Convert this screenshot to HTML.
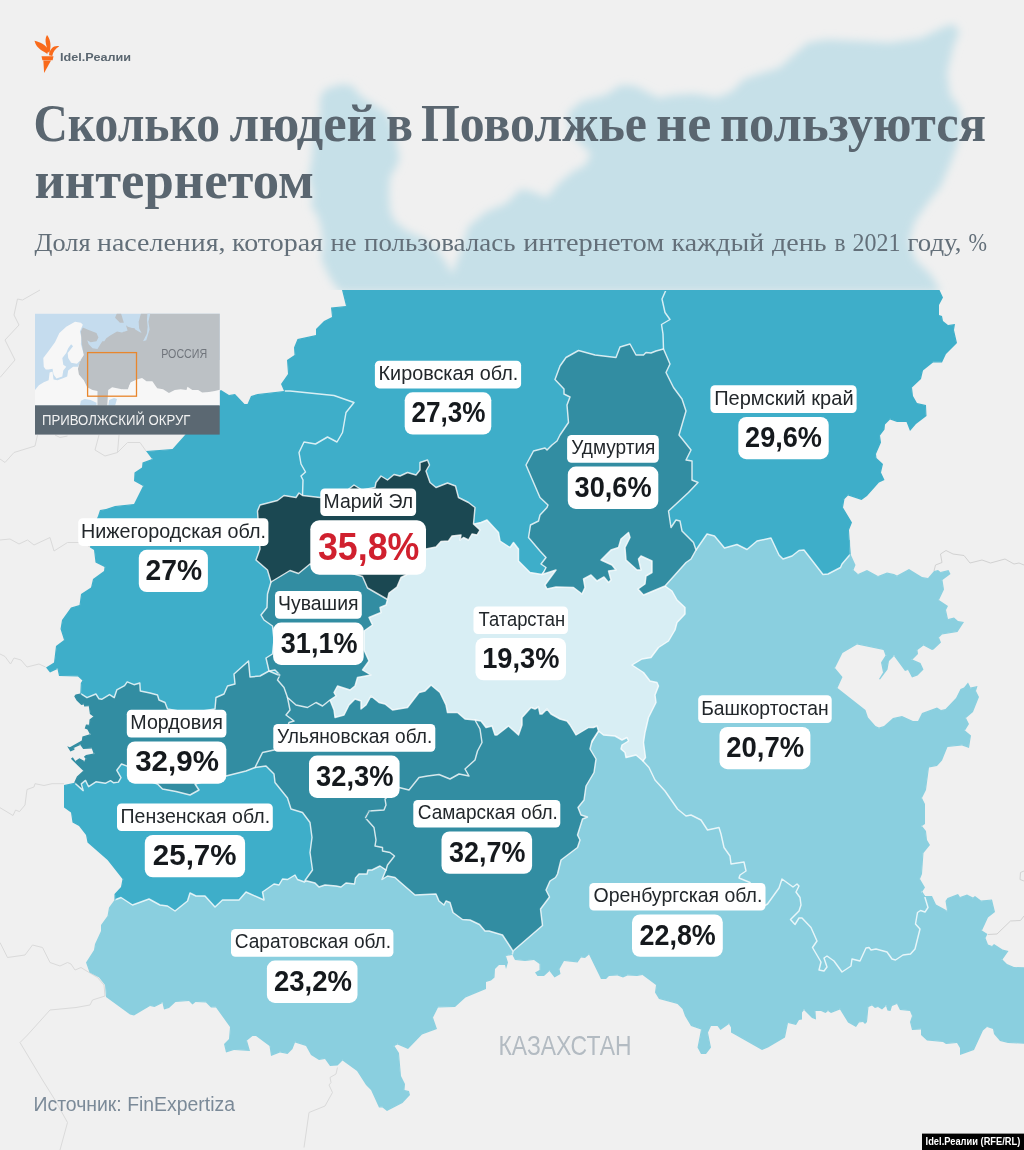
<!DOCTYPE html>
<html lang="ru"><head><meta charset="utf-8"><title>Idel.Реалии</title>
<style>
html,body{margin:0;padding:0;background:#f0f0f0;}
body{width:1024px;height:1150px;overflow:hidden;position:relative;font-family:"Liberation Sans",sans-serif;}
svg{position:absolute;left:0;top:0;display:block;will-change:transform;opacity:0.9999}
text{font-family:"Liberation Sans",sans-serif}
.serif{font-family:"Liberation Serif",serif}
</style></head><body>
<svg width="1024" height="1150" viewBox="0 0 1024 1150">
<defs>
<filter id="bl" x="-5%" y="-5%" width="110%" height="110%"><feGaussianBlur stdDeviation="4.5"/></filter>
<clipPath id="cmap"><rect x="0" y="290" width="1024" height="860"/></clipPath>
<clipPath id="chead"><rect x="0" y="0" width="1024" height="290"/></clipPath>
<clipPath id="cinset"><rect x="35" y="313.7" width="184.7" height="92"/></clipPath>
</defs>
<rect width="1024" height="1150" fill="#f0f0f0"/>

<g fill="none" stroke="#dadada" stroke-width="1"><polyline points="40.0,290.0 22.5,300.0 17.5,299.0 14.0,315.0 19.0,325.0 5.0,340.0 15.0,360.0 0.0,377.5"/><polyline points="0.0,459.0 5.0,462.5 14.0,452.5 35.0,446.0 37.5,435.0"/><polyline points="55.0,435.0 60.0,437.5 67.5,436.0"/><polyline points="99.0,435.0 95.0,450.0 105.0,456.0 117.5,452.5 119.0,435.0"/><polyline points="117.5,452.5 127.5,442.5 140.0,442.5 146.0,451.0"/><polyline points="0.0,540.0 10.0,539.0 19.0,544.0 27.5,540.0 34.0,545.0 50.0,537.5 54.0,551.0 67.5,542.5 82.5,542.5 90.0,547.0"/><polyline points="0.0,654.0 5.0,656.5 10.5,664.0 14.0,658.0 21.0,660.0 27.0,667.0 39.0,664.0 45.6,667.0"/><polyline points="64.0,783.7 52.0,783.7 44.0,785.5 35.0,783.7 34.0,787.0 27.0,789.5 25.0,805.0 19.5,811.6 15.6,810.0 13.0,815.5 0.0,807.7"/><polyline points="0.0,942.5 7.5,957.5 25.0,955.0 32.5,945.0 42.5,947.5 50.0,962.5 60.0,966.0 67.5,962.5 71.0,964.0 75.0,970.0 81.0,967.5 85.0,970.0 97.5,977.5 104.0,985.0 105.0,996.0 92.5,1000.0 90.0,1005.0 76.0,1007.5 50.0,1010.0 27.5,1035.0 20.0,1042.5 42.5,1080.0 55.0,1100.0 67.5,1122.5 60.0,1150.0"/><polyline points="337.5,1067.5 336.0,1074.0 330.0,1077.5 331.0,1082.5 329.0,1085.0 332.5,1092.5 325.0,1106.0 309.0,1112.5 304.0,1147.5"/></g><g fill="none" stroke="#d2d2d2" stroke-width="1"><polyline points="934.0,571.0 935.5,565.0 942.0,562.5 940.5,554.0 946.0,550.5 953.0,554.0 964.0,555.5 970.0,563.0 982.0,560.0 990.5,563.0 1005.0,559.0 1014.0,564.0 1019.0,563.0 1024.0,565.0"/><polyline points="988.0,934.5 997.0,934.0 1010.5,921.0 1020.5,920.5 1024.0,916.0"/><polyline points="1024.0,871.0 1020.5,872.5 1020.0,879.5 1024.0,881.0"/></g>
<g clip-path="url(#chead)"><polygon points="340.0,292.0 331.8,281.0 326.5,271.0 321.0,258.0 323.4,243.7 321.0,227.0 317.0,214.5 311.0,206.0 313.0,193.6 308.8,177.0 312.0,158.0 313.0,143.5 315.0,129.0 320.0,114.0 320.0,97.6 325.5,89.0 342.0,84.0 352.6,86.0 359.0,94.4 369.0,101.8 379.8,108.0 388.0,114.0 394.0,129.0 397.5,147.7 399.6,158.0 396.5,166.5 390.0,177.0 389.0,193.6 390.0,210.0 394.0,220.8 407.0,231.0 421.5,237.5 436.0,248.0 444.5,260.4 450.0,270.0 452.0,275.0 462.0,247.5 468.0,227.0 485.7,212.0 506.0,203.6 520.8,189.0 532.5,191.8 547.0,197.7 559.0,183.0 573.6,171.0 585.0,165.5 591.0,153.8 582.0,145.0 570.6,133.0 567.7,112.7 582.0,101.0 605.8,95.0 620.5,85.0 635.0,86.0 646.8,92.0 658.5,98.0 673.0,95.0 693.7,93.7 711.0,96.6 715.8,98.0 731.6,91.8 744.0,79.0 763.0,72.8 779.0,68.0 795.0,53.8 807.6,42.7 826.6,39.6 858.0,41.0 890.0,42.7 921.5,38.0 940.5,28.5 953.0,24.0 959.5,31.6 953.0,47.5 947.0,73.0 950.0,95.0 959.5,107.6 962.7,126.6 956.0,148.7 950.0,164.6 940.5,186.7 928.0,202.5 915.0,221.5 909.0,240.5 915.0,259.5 931.0,275.0 941.0,292.0" fill="#c6e0e8" filter="url(#bl)"/></g>
<defs><g id="regs">
<polygon points="925.0,896.0 932.0,896.0 936.0,904.5 947.0,910.5 945.5,901.0 947.5,898.0 958.0,894.0 960.0,897.0 967.0,894.5 973.0,897.5 975.0,896.0 981.0,900.5 992.0,899.5 995.0,912.0 988.0,917.5 982.0,930.5 987.5,934.0 985.5,938.0 988.0,944.5 992.0,946.0 994.0,944.0 1002.5,949.5 1008.5,951.0 1002.5,959.5 1007.0,964.0 1014.0,967.0 1030.0,967.5 1030.0,1044.0 1008.0,1043.0 1000.0,1041.0 994.0,1034.0 993.0,1029.0 987.0,1027.0 983.0,1030.5 974.0,1050.0 960.0,1055.0 960.0,1048.0 957.0,1043.0 946.0,1044.0 943.0,1042.0 927.0,1040.5 921.0,1035.0 921.0,1029.5 912.0,1030.0 910.0,1022.0 912.0,1016.0 910.0,1011.0 900.0,1010.0 897.0,1004.0 892.0,1006.0 890.5,1011.0 887.5,1010.5 886.0,1006.0 882.0,1009.5 878.0,1007.0 875.0,1008.0 872.0,1005.5 868.5,1007.0 867.0,1022.0 865.0,1024.0 863.0,1022.0 859.0,1022.5 856.0,1027.0 848.0,1022.5 840.0,1009.5 831.0,1013.0 828.0,1011.0 825.5,1013.0 821.0,1011.0 815.5,1011.0 816.0,1019.5 812.0,1018.0 804.0,1010.0 802.0,1012.5 802.0,1019.5 799.0,1020.0 796.0,1025.0 788.0,1023.0 785.0,1037.5 768.0,1047.5 762.0,1050.0 735.5,1035.0 731.0,1032.5 731.0,1027.5 729.0,1024.0 720.5,1030.0 717.5,1026.0 711.0,1026.0 708.0,1032.5 711.0,1047.5 706.0,1054.0 701.0,1054.0 697.5,1047.5 701.0,1029.5 691.0,1026.0 685.0,1016.0 682.5,1009.0 677.5,1004.0 659.0,999.0 655.0,992.5 656.0,985.0 642.5,975.0 637.0,976.0 627.5,975.5 623.0,977.5 617.5,975.5 609.0,976.0 606.0,979.0 601.0,979.0 589.0,954.5 585.0,958.0 581.0,957.5 577.5,962.5 564.0,961.0 559.5,969.0 560.5,974.0 554.5,977.5 549.5,971.0 544.0,976.0 537.5,976.0 535.0,972.5 539.5,970.0 539.5,964.0 534.0,960.0 525.0,961.0 515.0,960.0 512.5,955.0 513.0,951.0 540.0,900.0 570.0,760.0 600.0,720.0 650.0,740.0 700.0,780.0 800.0,850.0 915.0,880.0" fill="#8acfdf"/>
<polygon points="850.5,554.0 855.5,565.0 853.5,570.0 858.0,574.0 867.0,570.0 878.0,576.0 887.0,572.5 894.0,574.0 897.0,575.5 909.0,569.0 922.0,577.0 928.0,578.0 934.0,571.0 938.0,570.0 940.5,572.0 948.5,570.0 950.5,574.0 942.5,580.0 944.0,589.5 939.0,600.0 948.0,606.0 946.0,610.0 948.0,619.0 954.0,617.5 958.0,621.0 964.0,622.0 957.5,632.0 942.0,634.5 939.0,637.5 941.0,642.5 933.5,649.5 932.0,650.0 923.5,645.5 917.5,650.0 918.0,654.0 912.5,659.5 920.5,663.0 923.5,669.5 917.5,675.5 912.0,677.5 908.0,670.0 905.0,671.0 894.0,656.0 889.0,661.0 887.5,669.5 880.0,679.5 879.0,679.0 883.0,672.5 881.0,662.5 885.5,655.5 883.5,650.0 857.0,644.5 842.5,653.0 835.0,668.0 842.5,677.0 837.5,688.0 865.5,710.0 868.0,717.5 875.5,726.0 879.0,727.5 884.0,726.0 893.0,718.0 902.0,716.0 913.0,721.0 918.0,721.0 922.0,713.0 937.0,707.5 941.0,710.0 945.5,709.0 956.0,698.0 960.5,689.0 964.0,687.5 968.0,682.5 970.5,687.5 977.5,686.0 976.0,691.0 979.0,697.0 973.0,712.0 966.0,718.0 969.0,724.0 965.0,730.5 971.0,735.5 969.0,748.0 962.0,745.5 947.5,747.0 942.0,760.5 937.0,766.0 929.0,767.5 926.0,790.0 922.0,798.0 925.0,804.0 925.0,824.0 922.0,826.0 926.0,831.0 927.0,840.0 930.0,845.0 923.5,853.0 922.0,874.0 920.0,879.0 925.0,887.5 922.0,892.0 925.0,896.0 925.0,897.5 928.0,907.5 925.0,912.0 920.5,910.5 917.5,912.5 915.5,924.0 920.0,929.0 915.0,949.0 910.5,954.0 903.0,955.0 895.5,960.0 892.0,959.0 887.0,952.0 876.0,949.0 871.0,950.0 869.0,947.5 866.0,948.0 860.0,961.0 852.0,959.0 851.0,966.0 842.0,972.0 834.0,961.0 827.0,956.0 824.0,958.0 827.0,967.0 824.0,971.0 819.0,970.0 821.0,962.0 812.5,947.5 817.0,941.0 811.0,927.5 802.0,918.0 799.0,918.0 795.0,924.5 790.5,919.5 799.0,911.0 801.0,905.0 800.0,897.5 796.0,892.0 799.0,886.0 797.0,884.0 793.0,887.0 782.0,879.0 779.0,888.0 767.5,904.0 764.0,906.0 750.0,882.5 739.0,878.0 740.0,875.0 746.0,871.0 744.0,862.0 731.0,864.0 730.0,856.0 724.0,847.5 721.0,834.0 719.0,827.5 707.5,830.0 701.0,820.0 691.0,815.0 686.0,816.0 677.5,809.0 665.0,791.0 655.0,780.0 649.0,767.5 643.0,761.0 630.0,720.0 620.0,640.0 650.0,595.0 665.0,560.0 690.0,530.0 780.0,530.0 850.0,540.0" fill="#8acfdf"/>
<polygon points="939.5,290.0 943.0,297.5 939.0,305.0 939.0,315.0 942.0,316.0 943.0,321.0 948.0,325.0 955.0,324.0 954.0,330.0 957.0,343.0 946.0,354.0 942.0,362.5 933.0,362.5 923.0,370.5 921.0,379.0 912.0,387.5 913.0,396.0 917.0,403.0 926.0,405.0 926.5,416.0 916.0,424.0 910.0,431.0 906.5,422.0 897.0,422.0 890.0,419.5 885.0,424.5 884.5,429.5 880.0,435.5 881.0,442.5 876.0,454.0 876.5,458.0 883.0,464.0 881.0,472.5 884.5,480.0 879.0,482.5 867.0,496.0 861.5,500.0 848.0,495.5 844.5,499.0 843.0,507.5 852.0,522.5 849.0,530.0 850.5,554.0 842.0,564.0 840.5,567.5 828.0,574.0 823.0,574.5 804.0,550.0 799.0,550.5 792.0,556.0 783.0,559.0 779.0,555.0 771.0,538.0 757.0,541.0 747.0,549.5 737.0,544.5 724.5,548.0 714.5,536.0 707.0,534.0 696.0,550.0 670.0,540.0 650.0,480.0 645.0,400.0 640.0,290.0" fill="#3eaec9"/>
<polygon points="342.0,290.0 666.0,290.0 662.0,299.0 665.0,312.5 670.0,319.5 661.5,324.5 663.0,334.0 663.5,349.0 640.0,380.0 600.0,480.0 570.0,555.0 530.0,600.0 450.0,560.0 400.0,540.0 300.0,520.0 290.0,450.0 284.0,400.0 284.0,391.0 281.0,384.0 288.0,374.0 287.0,360.0 294.5,355.0 294.0,347.5 297.5,339.0 316.0,335.0 316.0,329.0 324.0,321.0 332.0,317.0 331.0,307.5 346.0,306.0" fill="#3eaec9"/>
<polygon points="284.0,391.0 257.5,394.0 251.0,396.0 247.5,404.0 244.5,404.0 235.0,394.0 229.0,395.0 221.0,390.0 205.0,400.0 195.0,420.0 185.0,435.0 172.5,449.0 146.0,451.0 152.0,459.0 142.5,462.5 142.0,467.5 134.5,472.5 134.0,481.0 143.0,486.0 134.0,504.0 115.0,506.0 106.0,509.0 100.0,510.0 98.0,516.0 92.0,530.0 90.0,547.5 94.0,550.0 95.5,562.5 104.5,567.0 104.0,571.0 93.0,579.0 91.0,587.5 81.0,594.0 79.5,605.0 71.0,607.5 62.0,620.0 60.5,629.0 64.0,640.0 56.0,646.0 54.0,662.5 46.0,667.5 50.0,672.5 57.5,669.0 59.0,676.0 78.0,676.5 82.4,680.5 80.8,683.0 80.3,693.4 100.0,720.0 240.0,720.0 300.0,650.0 300.0,560.0 302.5,495.5 303.0,480.0 301.0,476.0 305.5,472.0 301.0,464.0 299.0,452.5 304.0,442.0 315.5,444.0 327.5,437.0 337.0,442.0 342.5,432.5 346.0,412.5 354.0,402.5 334.0,395.5 290.0,391.0" fill="#3eaec9"/>
<polygon points="114.5,900.0 109.0,907.5 107.5,916.0 101.0,925.0 101.0,931.0 95.0,944.0 94.0,950.0 86.0,962.5 89.5,972.5 99.0,977.5 105.0,985.0 106.0,997.0 130.0,1014.5 134.0,1015.5 150.0,1006.0 154.5,1007.0 162.5,1003.0 164.0,1009.5 169.0,1008.0 175.5,1002.0 189.0,1001.0 192.5,1004.5 195.5,1002.0 206.0,1002.5 211.0,1007.5 216.0,1007.5 230.0,1027.0 229.0,1039.0 224.0,1044.0 226.0,1052.5 234.0,1050.0 250.0,1051.0 247.0,1040.5 252.5,1036.0 256.0,1036.0 269.5,1046.0 271.0,1056.0 280.0,1052.5 287.5,1054.0 292.5,1049.0 295.0,1042.5 306.0,1046.0 311.0,1055.0 319.0,1060.0 325.0,1059.0 330.0,1066.0 337.5,1065.5 342.5,1060.5 357.0,1071.0 366.0,1085.0 371.0,1090.0 379.0,1107.5 382.5,1107.5 387.0,1111.0 402.5,1103.0 410.0,1095.0 409.0,1091.0 404.5,1090.0 405.0,1084.0 401.0,1076.0 399.0,1053.0 394.5,1046.0 397.5,1044.5 408.0,1049.0 422.0,1034.5 437.0,1029.0 433.0,1017.5 438.0,1007.5 455.0,1007.0 465.5,997.5 486.0,989.0 486.0,982.0 491.0,980.5 494.5,977.5 495.0,969.0 499.0,965.0 505.0,965.0 506.0,969.0 508.0,962.5 506.0,956.0 512.0,955.0 513.0,951.0 500.0,920.0 450.0,880.0 350.0,860.0 300.0,860.0 135.0,885.0" fill="#8acfdf"/>
<polygon points="74.5,782.8 64.0,785.0 64.0,807.5 71.0,812.5 72.5,822.5 79.0,826.0 86.0,835.0 87.5,842.5 107.5,860.0 122.5,879.0 121.0,887.0 114.5,894.0 114.5,900.0 121.0,897.5 132.5,905.0 149.0,899.0 160.0,905.0 167.5,906.0 175.0,911.0 187.5,901.0 190.0,893.0 196.0,896.0 205.0,896.0 215.0,907.0 222.5,900.0 239.0,900.0 246.0,892.0 264.0,900.0 262.5,892.0 274.0,884.0 279.0,885.0 282.5,879.0 287.5,879.5 295.0,875.0 297.5,879.5 304.5,882.0 330.0,860.0 330.0,780.0 280.0,760.0 240.0,755.0 100.0,765.0 84.0,776.0" fill="#3eaec9"/>
<polygon points="474.0,524.0 481.0,522.5 487.0,520.0 498.5,532.5 500.0,541.0 510.0,547.5 513.5,542.5 518.5,549.0 518.5,561.0 530.0,572.5 542.0,574.5 560.0,550.0 620.0,520.0 660.0,560.0 665.0,586.0 672.0,591.0 677.0,600.0 685.0,607.5 685.0,614.0 677.0,622.5 675.0,630.0 668.5,641.0 658.5,647.5 651.0,657.5 642.0,659.0 632.0,665.0 643.5,672.5 650.0,681.0 657.0,682.5 658.5,686.0 655.0,695.0 656.0,702.5 648.5,717.5 645.0,732.5 643.5,742.5 645.5,757.5 643.0,761.0 636.0,755.0 626.0,757.5 625.0,752.5 621.0,749.0 622.0,745.0 628.5,741.0 627.0,737.5 622.0,740.0 615.0,736.0 603.5,735.0 598.5,731.0 590.0,745.0 560.0,750.0 500.0,750.0 440.0,730.0 340.0,730.0 320.0,690.0 350.0,640.0 375.0,600.0 400.0,570.0 440.0,535.0 470.0,520.0" fill="#d8eef4"/>
<polygon points="663.5,349.0 670.0,364.0 666.0,372.5 673.5,387.5 682.0,399.0 686.0,411.0 679.0,435.0 691.0,450.0 686.0,460.0 692.0,461.0 692.0,480.0 698.0,482.5 688.5,492.5 668.5,511.0 671.0,527.5 676.0,520.0 680.0,521.0 682.0,531.0 693.5,542.5 696.0,550.0 691.0,559.0 686.0,562.5 665.0,586.0 643.5,595.0 638.0,589.0 645.0,584.0 646.0,576.0 652.0,572.5 652.0,561.0 641.0,556.0 638.5,559.0 641.0,570.0 637.0,570.0 626.0,560.0 625.0,547.5 630.0,537.5 628.5,532.5 621.0,539.0 618.5,547.5 611.0,550.0 601.0,560.0 612.0,565.0 616.0,570.0 608.5,571.0 611.0,580.0 608.5,582.5 604.0,577.0 597.0,581.0 591.0,575.0 583.5,579.0 585.0,587.5 582.0,594.0 573.5,587.5 556.0,587.0 547.0,589.0 545.0,585.0 556.0,570.0 542.0,574.5 543.5,572.5 546.0,567.5 541.0,564.0 546.0,557.5 540.0,551.0 528.5,537.5 530.5,525.0 538.5,521.0 540.0,515.0 547.0,507.5 548.0,505.0 540.0,497.5 526.0,465.0 533.5,451.0 545.0,448.0 547.0,450.0 552.0,445.0 557.0,441.0 560.0,435.0 568.5,422.5 567.0,405.0 570.0,397.0 564.0,394.0 564.0,389.0 555.0,379.5 560.0,366.0 566.0,357.5 578.5,350.5 595.0,355.0 616.0,357.5 620.0,347.0 630.0,344.0 636.0,355.0 643.5,355.0 646.0,352.5 651.0,353.0 656.0,351.0" fill="#328da2"/>
<polygon points="598.5,731.0 597.0,726.0 593.5,727.5 588.5,727.5 576.0,735.0 570.0,725.0 567.0,721.0 560.0,719.0 551.0,714.0 547.0,709.0 542.0,714.0 540.0,714.0 538.5,707.0 535.0,709.0 531.0,707.5 522.0,717.5 522.0,725.0 518.5,735.0 508.5,726.0 497.0,735.0 495.0,735.0 492.0,726.0 486.0,727.5 481.0,721.0 475.0,720.0 460.0,740.0 420.0,760.0 380.0,790.0 360.0,830.0 374.0,860.0 386.0,870.0 382.0,879.5 387.5,876.0 395.0,877.5 400.0,882.0 415.0,895.0 436.0,894.0 439.0,901.0 444.0,905.0 446.0,901.0 450.0,902.5 453.0,912.5 462.5,919.5 470.0,920.0 479.5,924.5 485.0,931.0 489.0,931.0 502.5,935.0 513.0,951.0 542.5,925.5 540.5,909.0 549.5,897.0 546.0,890.0 550.0,881.0 555.5,877.5 557.5,874.0 561.0,860.0 577.5,847.5 580.0,840.0 577.5,835.0 582.5,819.0 587.5,817.0 581.0,815.0 578.0,807.5 584.0,800.0 586.0,786.0 594.0,772.5 596.0,759.0 590.0,749.0 592.0,741.0" fill="#328da2"/>
<polygon points="330.0,700.0 334.0,710.0 335.0,717.5 344.0,715.0 349.0,705.0 355.0,699.0 361.0,701.0 361.0,709.0 366.0,705.0 371.0,696.0 379.0,702.5 385.0,704.0 392.5,710.0 407.5,707.5 419.0,692.5 425.0,691.0 431.0,685.0 440.0,692.5 446.0,705.0 447.5,712.5 457.5,712.5 465.0,719.0 475.0,720.0 480.0,729.0 482.0,742.5 477.5,751.0 475.0,760.0 465.0,769.0 469.0,776.0 459.0,774.0 450.0,779.0 439.0,774.5 427.5,776.0 419.0,777.5 409.0,790.0 399.0,787.5 392.0,793.0 385.0,799.0 386.0,805.0 384.0,810.0 369.0,811.0 365.0,817.5 374.0,827.5 376.0,840.0 375.0,846.0 382.5,847.5 382.5,851.0 390.0,852.5 394.5,856.0 387.5,865.0 386.0,870.0 380.0,866.0 372.0,870.0 368.0,870.0 367.0,874.0 359.0,874.0 355.5,878.0 354.5,884.0 346.0,883.0 341.0,887.0 336.0,886.0 325.0,885.0 319.0,887.0 315.0,883.0 305.0,880.5 312.5,870.0 310.0,852.5 312.0,837.5 310.0,822.5 302.5,812.5 291.0,809.0 287.5,798.0 275.0,782.5 274.0,774.0 266.0,766.0 255.0,767.5 250.0,740.0 270.0,700.0 300.0,690.0" fill="#328da2"/>
<polygon points="74.2,696.2 75.6,694.6 80.3,693.4 87.0,697.7 95.9,694.0 99.0,698.8 101.7,699.3 109.5,694.6 114.2,697.7 116.8,689.9 124.6,685.7 127.2,681.9 134.0,684.7 139.8,683.0 140.3,691.0 150.0,693.0 157.5,695.0 159.0,700.0 165.0,702.5 167.5,709.0 190.0,713.0 215.0,709.0 216.0,697.5 224.0,694.0 227.5,686.0 235.0,684.0 234.0,674.0 248.5,661.0 250.0,677.0 260.0,676.0 269.0,671.0 290.0,680.0 287.5,697.5 290.0,710.0 286.0,715.0 294.0,721.0 289.0,722.5 285.0,735.0 274.0,750.0 262.5,752.5 255.0,767.5 246.0,771.0 226.0,776.0 210.0,780.0 195.0,784.0 199.0,790.0 190.0,795.0 176.0,791.5 162.5,789.0 157.5,784.0 140.0,778.0 127.2,766.1 121.5,764.0 116.8,770.3 121.0,777.6 118.4,782.1 113.7,782.8 110.5,780.7 105.3,783.3 95.9,781.8 88.6,786.7 85.5,780.4 81.3,783.9 83.2,790.6 74.5,782.8 74.5,781.8 76.9,776.6 83.2,770.8 70.9,758.8 72.8,757.2 75.3,760.9 79.4,758.3 84.4,760.9 85.5,758.8 83.9,756.7 86.0,754.9 93.6,753.6 91.8,748.4 83.2,748.9 80.3,744.9 74.2,747.8 74.5,749.7 70.4,751.5 67.2,746.3 69.8,747.3 81.8,740.5 82.4,736.6 89.9,734.3 87.4,729.6 84.7,728.5 86.0,724.4 89.1,724.7 89.5,719.5 93.3,716.5 89.9,713.9 88.8,706.3 84.2,706.6 83.9,704.5 81.3,705.0 76.6,700.4" fill="#328da2"/>
<polygon points="271.0,582.0 267.5,594.0 267.0,607.5 261.0,615.0 264.0,620.0 272.5,626.0 274.0,640.0 272.5,654.0 266.0,658.0 269.0,671.0 275.0,670.0 280.0,675.0 277.5,680.0 284.0,687.5 287.5,697.5 296.0,705.0 307.5,707.5 316.0,702.5 322.5,706.0 330.0,700.0 336.0,696.0 334.0,692.5 337.5,686.0 350.0,690.0 355.0,686.0 357.5,677.5 371.0,675.0 362.5,670.0 369.0,661.0 364.0,650.0 364.0,631.0 372.5,625.0 369.0,617.5 381.0,612.5 380.0,607.5 386.0,605.0 387.5,599.5 380.0,585.0 330.0,560.0 280.0,565.0" fill="#328da2"/>
<polygon points="302.5,495.5 320.0,497.5 345.0,492.0 354.0,485.0 362.0,490.0 375.0,487.5 376.0,482.5 381.0,476.0 387.5,480.0 394.0,474.5 400.0,476.0 407.5,472.5 416.0,475.0 420.0,470.0 420.0,462.5 427.5,460.0 429.5,465.0 426.0,471.0 430.0,482.5 436.0,487.5 447.5,483.0 455.5,486.0 458.5,497.5 468.5,502.5 475.0,507.5 473.5,524.0 480.0,530.0 477.0,535.0 472.0,534.0 468.5,540.0 463.5,537.5 460.0,540.0 461.0,535.0 452.0,536.0 448.5,541.0 441.0,541.5 436.0,547.0 426.0,549.0 418.0,562.0 406.0,575.0 401.0,577.5 397.0,587.0 389.0,593.0 387.5,599.5 367.5,588.0 362.5,576.5 340.0,570.0 310.0,564.0 298.5,573.5 290.0,570.5 271.0,582.0 267.5,570.0 256.0,560.0 260.0,549.0 257.5,511.0 260.0,505.0 277.5,500.5 284.0,495.5 296.0,497.5 299.0,493.0" fill="#1b4852"/>
</g>
<filter id="ero" x="0" y="0" width="1024" height="1150" filterUnits="userSpaceOnUse"><feMorphology in="SourceAlpha" operator="erode" radius="1.3"/><feColorMatrix type="matrix" values="0 0 0 0 1  0 0 0 0 1  0 0 0 0 1  0 0 0 1 0"/></filter>
<mask id="mk" maskUnits="userSpaceOnUse" x="0" y="0" width="1024" height="1150"><g filter="url(#ero)"><use href="#regs"/></g></mask></defs>
<g clip-path="url(#cmap)"><use href="#regs"/>
<g mask="url(#mk)"><use href="#regs" stroke="#ffffff" stroke-opacity="0.8" stroke-width="1.45" stroke-linejoin="round"/></g></g>
<g clip-path="url(#cinset)"><rect x="34" y="313" width="187" height="93" fill="#c5dcee"/><rect x="80" y="360" width="141" height="46" fill="#f7f7f7"/><g transform="translate(34,312) scale(0.097656)"><polygon points="100.0,560.0 95.0,470.0 150.0,400.0 215.0,310.0 260.0,215.0 330.0,150.0 420.0,100.0 480.0,110.0 500.0,130.0 470.0,200.0 485.0,260.0 480.0,330.0 500.0,400.0 515.0,440.0 470.0,500.0 440.0,530.0 380.0,520.0 350.0,470.0 345.0,420.0 400.0,350.0 380.0,330.0 350.0,370.0 330.0,420.0 290.0,470.0 300.0,540.0 330.0,560.0 300.0,600.0 290.0,660.0 230.0,680.0 200.0,640.0 190.0,580.0 150.0,590.0 120.0,590.0" fill="#f7f7f7"/><polygon points="0.0,810.0 50.0,750.0 100.0,720.0 150.0,700.0 160.0,620.0 190.0,610.0 200.0,690.0 240.0,700.0 290.0,680.0 340.0,660.0 350.0,600.0 400.0,560.0 450.0,560.0 470.0,520.0 520.0,500.0 1030.0,500.0 1030.0,960.0 0.0,960.0" fill="#f7f7f7"/><polygon points="470.0,960.0 480.0,910.0 520.0,890.0 580.0,900.0 640.0,930.0 640.0,960.0" fill="#c5dcee"/><polygon points="760.0,960.0 770.0,900.0 820.0,880.0 850.0,890.0 830.0,960.0" fill="#c5dcee"/><polygon points="500.0,160.0 560.0,185.0 640.0,215.0 660.0,260.0 640.0,300.0 580.0,310.0 545.0,290.0 560.0,330.0 600.0,370.0 650.0,380.0 680.0,330.0 700.0,300.0 720.0,300.0 740.0,270.0 780.0,240.0 850.0,200.0 900.0,210.0 960.0,190.0 1000.0,170.0 1030.0,165.0 1030.0,700.0 990.0,720.0 960.0,780.0 900.0,790.0 800.0,770.0 760.0,800.0 750.0,960.0 650.0,960.0 650.0,810.0 600.0,800.0 545.0,770.0 530.0,740.0 510.0,700.0 460.0,640.0 450.0,580.0 470.0,510.0 510.0,440.0 490.0,330.0 480.0,200.0" fill="#bcc1c5"/><polygon points="830.0,60.0 850.0,10.0 890.0,10.0 920.0,110.0 880.0,110.0" fill="#bcc1c5"/></g><g transform="translate(124,312) scale(0.097656)"><polygon points="175.0,10.0 150.0,100.0 155.0,170.0 180.0,215.0 150.0,200.0 100.0,170.0 40.0,150.0 20.0,135.0 40.0,200.0 20.0,220.0 -10.0,200.0 -10.0,790.0 40.0,790.0 60.0,720.0 130.0,690.0 185.0,675.0 230.0,710.0 290.0,710.0 340.0,780.0 400.0,790.0 460.0,830.0 520.0,800.0 580.0,790.0 640.0,800.0 650.0,765.0 700.0,800.0 760.0,800.0 800.0,825.0 870.0,820.0 930.0,810.0 990.0,795.0 990.0,10.0" fill="#bcc1c5"/><polygon points="240.0,10.0 270.0,10.0 250.0,100.0 262.0,180.0 228.0,290.0 195.0,300.0 235.0,220.0 242.0,150.0 235.0,80.0" fill="#c5dcee"/></g></g><rect x="87.6" y="352.6" width="48.9" height="43.6" fill="none" stroke="#e8862d" stroke-width="1.3"/><rect x="35" y="405.3" width="184.7" height="29.3" fill="#5b6872"/><text x="161.2" y="357.5" font-size="12.8" fill="#70757c" textLength="46" lengthAdjust="spacingAndGlyphs">РОССИЯ</text><text x="42" y="425.3" font-size="14.4" fill="#f2f2f2" textLength="148.5" lengthAdjust="spacingAndGlyphs">ПРИВОЛЖСКИЙ ОКРУГ</text>
<g>
<rect x="374.9" y="360.7" width="146.2" height="27.7" rx="4.5" fill="#fff"/>
<text x="378.6" y="380.1" font-size="19.9" fill="#22272b" textLength="139.6" lengthAdjust="spacingAndGlyphs">Кировская обл.</text>
<rect x="404.7" y="392.3" width="86.6" height="42.3" rx="8" fill="#fff"/>
<text x="411.5" y="422.3" font-size="30.2" font-weight="bold" fill="#15191d" textLength="74.1" lengthAdjust="spacingAndGlyphs">27,3%</text>
<rect x="710.4" y="385.3" width="146.2" height="27.7" rx="4.5" fill="#fff"/>
<text x="714.2" y="404.7" font-size="19.9" fill="#22272b" textLength="139.4" lengthAdjust="spacingAndGlyphs">Пермский край</text>
<rect x="738.3" y="416.9" width="90.4" height="42.3" rx="8" fill="#fff"/>
<text x="745.1" y="446.9" font-size="30.2" font-weight="bold" fill="#15191d" textLength="76.9" lengthAdjust="spacingAndGlyphs">29,6%</text>
<rect x="567.1" y="435.0" width="91.7" height="27.7" rx="4.5" fill="#fff"/>
<text x="571.2" y="454.4" font-size="19.9" fill="#22272b" textLength="84.2" lengthAdjust="spacingAndGlyphs">Удмуртия</text>
<rect x="567.8" y="466.6" width="90.5" height="42.3" rx="8" fill="#fff"/>
<text x="574.6" y="496.6" font-size="30.2" font-weight="bold" fill="#15191d" textLength="77.0" lengthAdjust="spacingAndGlyphs">30,6%</text>
<rect x="320.3" y="488.4" width="95.8" height="27.7" rx="4.5" fill="#fff"/>
<text x="323.6" y="507.8" font-size="19.9" fill="#22272b" textLength="89.6" lengthAdjust="spacingAndGlyphs">Марий Эл</text>
<rect x="310.3" y="520.3" width="115.7" height="54.4" rx="9" fill="#fff"/>
<text x="317.9" y="559.7" font-size="38.6" font-weight="bold" fill="#d0202e" textLength="101.5" lengthAdjust="spacingAndGlyphs">35,8%</text>
<rect x="78.2" y="518.2" width="190.2" height="27.7" rx="4.5" fill="#fff"/>
<text x="81.0" y="537.6" font-size="19.9" fill="#22272b" textLength="184.9" lengthAdjust="spacingAndGlyphs">Нижегородская обл.</text>
<rect x="138.8" y="549.8" width="69.1" height="42.3" rx="8" fill="#fff"/>
<text x="145.5" y="579.8" font-size="30.2" font-weight="bold" fill="#15191d" textLength="56.5" lengthAdjust="spacingAndGlyphs">27%</text>
<rect x="275.0" y="591.0" width="86.8" height="27.7" rx="4.5" fill="#fff"/>
<text x="278.1" y="610.4" font-size="19.9" fill="#22272b" textLength="80.4" lengthAdjust="spacingAndGlyphs">Чувашия</text>
<rect x="273.1" y="622.6" width="90.6" height="42.3" rx="8" fill="#fff"/>
<text x="280.8" y="652.6" font-size="30.2" font-weight="bold" fill="#15191d" textLength="76.7" lengthAdjust="spacingAndGlyphs">31,1%</text>
<rect x="473.5" y="606.4" width="94.5" height="27.7" rx="4.5" fill="#fff"/>
<text x="478.5" y="625.8" font-size="19.9" fill="#22272b" textLength="86.6" lengthAdjust="spacingAndGlyphs">Татарстан</text>
<rect x="475.5" y="638.0" width="90.5" height="42.3" rx="8" fill="#fff"/>
<text x="482.2" y="668.0" font-size="30.2" font-weight="bold" fill="#15191d" textLength="77.2" lengthAdjust="spacingAndGlyphs">19,3%</text>
<rect x="698.2" y="695.3" width="133.5" height="27.7" rx="4.5" fill="#fff"/>
<text x="701.2" y="714.7" font-size="19.9" fill="#22272b" textLength="127.4" lengthAdjust="spacingAndGlyphs">Башкортостан</text>
<rect x="719.5" y="726.9" width="90.9" height="42.3" rx="8" fill="#fff"/>
<text x="726.3" y="756.9" font-size="30.2" font-weight="bold" fill="#15191d" textLength="77.8" lengthAdjust="spacingAndGlyphs">20,7%</text>
<rect x="126.8" y="709.8" width="99.6" height="27.7" rx="4.5" fill="#fff"/>
<text x="130.3" y="729.1" font-size="19.9" fill="#22272b" textLength="92.6" lengthAdjust="spacingAndGlyphs">Мордовия</text>
<rect x="126.9" y="741.4" width="99.4" height="42.3" rx="8" fill="#fff"/>
<text x="135.2" y="771.4" font-size="30.2" font-weight="bold" fill="#15191d" textLength="83.7" lengthAdjust="spacingAndGlyphs">32,9%</text>
<rect x="273.3" y="724.0" width="162.0" height="27.7" rx="4.5" fill="#fff"/>
<text x="277.0" y="743.4" font-size="19.9" fill="#22272b" textLength="155.2" lengthAdjust="spacingAndGlyphs">Ульяновская обл.</text>
<rect x="309.0" y="755.6" width="90.6" height="42.3" rx="8" fill="#fff"/>
<text x="316.1" y="785.6" font-size="30.2" font-weight="bold" fill="#15191d" textLength="77.3" lengthAdjust="spacingAndGlyphs">32,3%</text>
<rect x="117.0" y="803.4" width="155.8" height="27.7" rx="4.5" fill="#fff"/>
<text x="120.5" y="822.8" font-size="19.9" fill="#22272b" textLength="149.6" lengthAdjust="spacingAndGlyphs">Пензенская обл.</text>
<rect x="144.8" y="835.0" width="100.3" height="42.3" rx="8" fill="#fff"/>
<text x="152.8" y="865.0" font-size="30.2" font-weight="bold" fill="#15191d" textLength="83.8" lengthAdjust="spacingAndGlyphs">25,7%</text>
<rect x="413.3" y="799.9" width="147.0" height="27.7" rx="4.5" fill="#fff"/>
<text x="417.7" y="819.3" font-size="19.9" fill="#22272b" textLength="140.2" lengthAdjust="spacingAndGlyphs">Самарская обл.</text>
<rect x="441.5" y="831.5" width="90.6" height="42.3" rx="8" fill="#fff"/>
<text x="449.1" y="861.5" font-size="30.2" font-weight="bold" fill="#15191d" textLength="76.3" lengthAdjust="spacingAndGlyphs">32,7%</text>
<rect x="589.3" y="882.9" width="176.2" height="27.7" rx="4.5" fill="#fff"/>
<text x="593.5" y="902.3" font-size="19.9" fill="#22272b" textLength="168.9" lengthAdjust="spacingAndGlyphs">Оренбургская обл.</text>
<rect x="632.0" y="914.5" width="90.8" height="42.3" rx="8" fill="#fff"/>
<text x="639.5" y="944.5" font-size="30.2" font-weight="bold" fill="#15191d" textLength="76.3" lengthAdjust="spacingAndGlyphs">22,8%</text>
<rect x="231.0" y="929.0" width="162.4" height="27.7" rx="4.5" fill="#fff"/>
<text x="234.7" y="948.4" font-size="19.9" fill="#22272b" textLength="156.4" lengthAdjust="spacingAndGlyphs">Саратовская обл.</text>
<rect x="266.9" y="960.6" width="90.6" height="42.3" rx="8" fill="#fff"/>
<text x="274.0" y="990.6" font-size="30.2" font-weight="bold" fill="#15191d" textLength="78.0" lengthAdjust="spacingAndGlyphs">23,2%</text>
</g>
<text class="serif" x="33.5" y="140.7" font-size="52" font-weight="bold" fill="#5a6670" textLength="186.5" lengthAdjust="spacingAndGlyphs">Сколько</text>
<text class="serif" x="229.5" y="140.7" font-size="52" font-weight="bold" fill="#5a6670" textLength="147.5" lengthAdjust="spacingAndGlyphs">людей</text>
<text class="serif" x="386.0" y="140.7" font-size="52" font-weight="bold" fill="#5a6670" textLength="27.0" lengthAdjust="spacingAndGlyphs">в</text>
<text class="serif" x="421.0" y="140.7" font-size="52" font-weight="bold" fill="#5a6670" textLength="226.0" lengthAdjust="spacingAndGlyphs">Поволжье</text>
<text class="serif" x="656.0" y="140.7" font-size="52" font-weight="bold" fill="#5a6670" textLength="55.3" lengthAdjust="spacingAndGlyphs">не</text>
<text class="serif" x="720.0" y="140.7" font-size="52" font-weight="bold" fill="#5a6670" textLength="266.0" lengthAdjust="spacingAndGlyphs">пользуются</text>
<text class="serif" x="34.5" y="197.5" font-size="52" font-weight="bold" fill="#5a6670" textLength="279.5" lengthAdjust="spacingAndGlyphs">интернетом</text>
<text class="serif" x="34.5" y="251.0" font-size="25.2" fill="#636f79" textLength="56.0" lengthAdjust="spacingAndGlyphs">Доля</text>
<text class="serif" x="97.0" y="251.0" font-size="25.2" fill="#636f79" textLength="128.5" lengthAdjust="spacingAndGlyphs">населения,</text>
<text class="serif" x="232.0" y="251.0" font-size="25.2" fill="#636f79" textLength="91.0" lengthAdjust="spacingAndGlyphs">которая</text>
<text class="serif" x="330.5" y="251.0" font-size="25.2" fill="#636f79" textLength="26.0" lengthAdjust="spacingAndGlyphs">не</text>
<text class="serif" x="364.0" y="251.0" font-size="25.2" fill="#636f79" textLength="151.5" lengthAdjust="spacingAndGlyphs">пользовалась</text>
<text class="serif" x="523.2" y="251.0" font-size="25.2" fill="#636f79" textLength="141.0" lengthAdjust="spacingAndGlyphs">интернетом</text>
<text class="serif" x="671.5" y="251.0" font-size="25.2" fill="#636f79" textLength="92.7" lengthAdjust="spacingAndGlyphs">каждый</text>
<text class="serif" x="772.0" y="251.0" font-size="25.2" fill="#636f79" textLength="54.5" lengthAdjust="spacingAndGlyphs">день</text>
<text class="serif" x="834.5" y="251.0" font-size="25.2" fill="#636f79" textLength="11.0" lengthAdjust="spacingAndGlyphs">в</text>
<text class="serif" x="852.5" y="251.0" font-size="25.2" fill="#636f79" textLength="48.0" lengthAdjust="spacingAndGlyphs">2021</text>
<text class="serif" x="907.5" y="251.0" font-size="25.2" fill="#636f79" textLength="54.0" lengthAdjust="spacingAndGlyphs">году,</text>
<text class="serif" x="968.5" y="251.0" font-size="25.2" fill="#636f79" textLength="18.5" lengthAdjust="spacingAndGlyphs">%</text>
<g transform="translate(24,24) scale(0.125)" fill="#fa6a1b"><path d="M84,133 C125,142 175,165 197,205 L186,240 C165,215 100,205 84,133 Z"/><path d="M184,88 C205,115 225,160 203,232 L186,215 C190,180 155,140 184,88 Z"/><path d="M282,177 C240,168 205,195 200,250 L226,256 C232,222 250,195 282,177 Z"/><polygon points="140,258 236,258 229,290 147,290"/><polygon points="155,292 216,292 161,392"/></g><text x="60" y="60.9" font-size="11.8" font-weight="bold" fill="#5a6670" textLength="71" lengthAdjust="spacingAndGlyphs">Idel.Реалии</text>
<text x="498.5" y="1055.3" font-size="27.5" fill="#b3bbc2" textLength="133" lengthAdjust="spacingAndGlyphs">КАЗАХСТАН</text>
<text x="33.5" y="1111" font-size="19.5" fill="#7b8a98" textLength="201.5" lengthAdjust="spacingAndGlyphs">Источник: FinExpertiza</text>
<rect x="922" y="1133.6" width="102" height="17" fill="#000"/>
<text x="925.6" y="1145" font-size="10" font-weight="bold" fill="#fff" textLength="94.8" lengthAdjust="spacingAndGlyphs">Idel.Реалии (RFE/RL)</text>
</svg></body></html>
